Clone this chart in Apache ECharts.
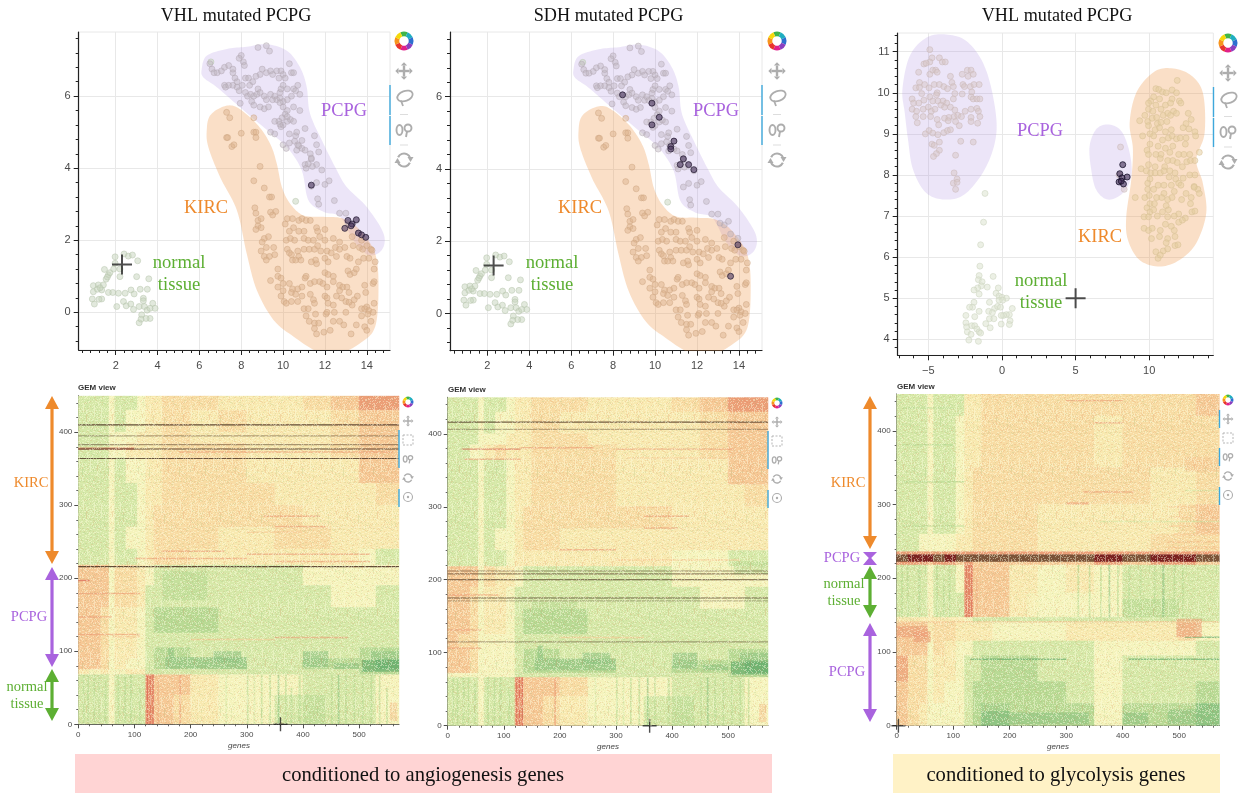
<!DOCTYPE html>
<html><head><meta charset="utf-8">
<style>html,body{margin:0;padding:0;background:#fff}#c{width:1240px;height:793px}</style>
<script src="https://cdn.jsdelivr.net/npm/echarts@6/dist/echarts.min.js"></script>
</head><body><div id="c"></div>
<script>
// ---------- data ----------
const normalA=[[1.97,1.54],[2.4,1.62],[2.6,1.56],[2.8,1.59],[3.05,1.43],[1.97,1.36],[1.46,1.19],[1.9,1.2],[2.2,1.2],[1.65,1.04],[1.54,.92],[2.2,.99],[3,.99],[3.58,.93],[.93,.74],[1.17,.76],[1.41,.76],[1.33,.62],[.93,.57],[1.12,.64],[1.65,.55],[1.86,.55],[2.13,.53],[2.45,.53],[2.73,.62],[2.88,.51],[3.17,.64],[3.51,.64],[3.32,.39],[3.32,.32],[.88,.37],[.98,.23],[1.33,.37],[2.37,.3],[2.5,.18],[2.72,.23],[2.05,.16],[2.85,.08],[3.12,.16],[3.37,.16],[3.5,.06],[3.77,.25],[3.88,.11],[3.64,.11],[3.24,-.07],[3.64,-.17],[3.45,-.17],[3.12,-.29],[3.21,-.19],[1.6,.98],[1.72,1.1],[1.25,.68],[1.2,.36],[10.6,3.08],[6.55,6.95]];
const pcpgA=[[6.5,6.9],[6.6,6.75],[6.7,6.65],[6.85,6.65],[7.05,6.7],[7.2,6.8],[7.4,6.85],[7.6,6.65],[7.6,6.75],[7.7,6.5],[7.8,6.4],[7.2,6.3],[7.25,6.25],[7.4,6.3],[7.6,6.3],[7.8,6.25],[7.9,6.15],[8.05,6.3],[8.2,6.5],[8.35,6.5],[8.55,6.4],[8,7.13],[8.1,6.95],[7.9,7.05],[8.15,6.85],[9.2,7.4],[8.8,7.35],[9.35,7.25],[9,6.75],[9.2,6.65],[9.4,6.7],[8.9,6.6],[8.7,6.55],[9.7,6.7],[9.9,6.7],[10,6.6],[10.3,6.9],[10.4,6.65],[10.5,6.65],[10.1,6.5],[9.8,6.5],[9.5,6.6],[8.4,6.3],[8.2,6.1],[8.3,6],[8.5,5.85],[8.6,6],[8.75,6.05],[8.8,6.2],[8.9,6.1],[9.1,6],[9.2,5.9],[9.4,6.05],[9.5,5.9],[9.6,6],[9.7,5.9],[9.85,6.1],[9.9,6.2],[10,6.3],[10.2,6.2],[10.5,6.2],[10.7,6.3],[10.6,6.15],[10.4,6],[10.8,6.05],[10.2,5.9],[10,5.85],[9.85,5.95],[7.95,5.8],[8.6,5.75],[8.9,5.7],[9.1,5.65],[9.3,5.7],[10,5.7],[10.2,5.6],[10.1,5.5],[10.5,5.7],[10.8,5.6],[9.95,5.4],[9.6,5.3],[9.8,5.3],[10.2,5.3],[10,5.2],[9.9,5.15],[10.35,5.35],[10.5,5.3],[11.05,5.1],[9.4,5],[9.6,4.95],[10.3,4.95],[10.6,4.9],[10.65,5],[10.3,4.7],[10.55,4.75],[10,4.65],[10.15,4.55],[10.7,4.65],[10.65,4.5],[10.9,4.55],[11.05,4.5],[11.5,4.9],[11.6,4.65],[11.7,4.45],[11.3,4.4],[11.35,4.25],[11.05,4.1],[11.1,4],[11.6,4.1],[11.85,3.95],[11.4,4.05],[11.35,3.5],[11.6,3.6],[12,3.55],[12.2,3.65],[11.65,3.15],[11.7,3],[12.45,3.1],[12.7,2.75],[13,2.75],[13.3,2.45],[13.5,2.55],[13.1,2.5],[8.45,6.05],[9.85,5.82],[10.2,5.43],[9.85,5.22],[10.9,4.77],[10.75,4.62],[11.35,4.28],[11.2,4.12],[13.6,2.2],[13.95,2.08]];
const kircA=[[7.3,5.55],[7.45,5.4],[7.3,4.85],[7.35,4.85],[7.55,4.6],[7.65,4.65],[8,4.97],[8.6,5],[8.7,5],[8.7,4.85],[8.6,5.4],[8.9,4.05],[8.6,3.65],[9.1,3.45],[9.35,3.2],[9.45,3.2],[9.4,2.78],[9.65,2.8],[9.5,2.7],[8.65,2.9],[8.7,2.75],[8.8,2.55],[8.95,2.6],[8.8,2.4],[8.7,2.3],[8.95,2.35],[10.2,2.6],[10.45,2.6],[10.75,2.55],[10.9,2.6],[11.1,2.55],[11.3,2.55],[10.1,2.45],[10.5,2.35],[10.75,2.25],[11,2.25],[10.3,2.25],[9.1,2.05],[9.3,2.1],[9,1.95],[9.2,1.8],[9.55,1.8],[8.95,1.7],[9.1,1.55],[9.35,1.55],[9.2,1.45],[9.6,1.6],[10.15,2],[10.35,2.05],[10.55,2],[11,2.05],[11.2,2],[11.45,2],[11.6,2.35],[11.65,2.25],[12,2.3],[12,2],[11.75,2.1],[12.4,2.05],[12.7,1.95],[12.5,1.8],[11,1.75],[11.25,1.75],[11.5,1.75],[11.65,1.85],[11.8,1.7],[12.1,1.7],[12.3,1.65],[12.7,1.75],[12.95,1.8],[13.35,1.85],[13.65,1.8],[13.8,1.75],[14,1.85],[14.2,1.75],[10.2,1.75],[10.3,1.65],[10.4,1.6],[10.7,1.7],[10.75,1.55],[10.45,1.45],[10.6,1.45],[10.85,1.45],[11.6,1.35],[11.55,1.45],[12.15,1.4],[12,1.5],[13.05,1.55],[13.2,1.5],[13.85,1.5],[13.6,1.4],[14.1,1.5],[14.4,1.4],[14.35,1.2],[9.75,1.2],[9.75,1],[9.9,.95],[9.4,.88],[10,.8],[10.3,.8],[9.75,.7],[10,.6],[10.45,.65],[10.7,.65],[10.9,.7],[9.9,.45],[10.4,.55],[10.6,.5],[10.9,.45],[11.05,.95],[11.1,1],[11.3,.8],[11.5,.85],[11.75,.85],[11.9,.8],[12,1.1],[12.15,1.05],[12.4,1],[12.4,.85],[12.1,.7],[13.1,1.15],[13.2,1.05],[13.4,1.1],[13.5,1.2],[14.3,.8],[14.35,.85],[13.9,.75],[12.7,.75],[12.85,.7],[13.05,.7],[12.7,.6],[13.15,.55],[13.95,.55],[10.05,.3],[10.15,.25],[10.4,.3],[10.7,.3],[11.3,.5],[11.45,.35],[11.5,.25],[11,.1],[11.2,.1],[12,.45],[12.1,.4],[12.15,.25],[12.4,.2],[12.55,.45],[12.8,.4],[13,.3],[13.3,.2],[13.4,.35],[13.55,.45],[14.35,.25],[14,.15],[13.75,.1],[13.9,.1],[14.1,.05],[11.1,-.1],[11.55,-.05],[12.05,-.05],[12.1,0],[12.45,0],[13,0],[13.75,-.1],[14.05,-.05],[14.3,0],[11.25,-.25],[11.5,-.3],[11.7,-.3],[12.4,-.25],[12.7,-.25],[13.5,-.35],[14.2,-.25],[13.9,-.4],[14,-.5],[11.5,-.45],[11.6,-.6],[11.95,-.55],[12.25,-.5],[13.25,-.6],[12.9,-.35],[13.3,2.1],[13.75,2],[14.25,1.72],[13.15,.28],[12.55,1.55],[11.35,1.4]];
const highlightVhlA=[[11.35,3.53],[13.1,2.55],[13.5,2.57],[13.3,2.45],[13.25,2.4],[12.95,2.33],[13.6,2.2],[13.75,2.15],[13.95,2.08]];
const highlightSdh=[[8.45,6.05],[9.85,5.82],[10.2,5.43],[9.85,5.22],[10.9,4.77],[10.75,4.62],[10.75,4.55],[11.35,4.28],[11.6,4.12],[11.2,4.12],[11.85,3.98],[13.95,1.9],[13.6,1.03]];
const normalB=[[-1.15,7.55],[-1.25,6.85],[-1.45,6.3],[-1.5,5.78],[-.6,5.53],[-1.55,5.55],[-1.6,5.45],[-1.35,5.4],[-1.4,5.3],[-1.65,5.25],[-1,5.27],[-.25,5.25],[-1.9,5.2],[-1.55,5.1],[-.4,5.12],[-.2,5.05],[0,5.02],[.3,5],[-.2,4.95],[-.85,4.9],[.05,4.95],[-1.9,4.9],[-2,4.78],[-2.2,4.78],[-.5,4.75],[-.3,4.8],[-.1,4.78],[.7,4.75],[.5,4.6],[.3,4.6],[.1,4.58],[-.9,4.68],[-.65,4.65],[-1.55,4.68],[-1.85,4.55],[-2.45,4.58],[-.85,4.5],[-.55,4.5],[-.05,4.58],[.55,4.45],[.5,4.36],[-.05,4.37],[-1.1,4.38],[-.8,4.28],[-2.45,4.4],[-2.4,4.3],[-2.05,4.33],[-1.85,4.33],[-1.7,4.25],[-1.55,4.18],[-1.45,4.15],[-2.35,4.18],[-2.1,4.12],[-2.25,3.98],[-1.6,3.95]];
const pcpgB=[[-4.9,11.05],[-4.75,10.85],[-4.9,10.75],[-5.3,10.7],[-5.15,10.72],[-4.25,10.85],[-4.05,10.75],[-3.85,10.75],[-5.66,10.5],[-4.9,10.45],[-4.7,10.55],[-4.5,10.55],[-4.4,10.5],[-3.5,10.4],[-3.4,10.25],[-2.7,10.45],[-2.35,10.55],[-2.1,10.55],[-2.3,10.4],[-1.95,10.45],[-5.6,10.25],[-5.85,10.12],[-5.6,10.13],[-5.25,10.2],[-4.95,10.12],[-4.6,10.2],[-4.25,10.2],[-3.95,10.15],[-3.7,10.1],[-3.3,10.15],[-2.65,10.2],[-2.55,10.15],[-2.15,10.15],[-1.9,10.2],[-1.55,10.2],[-2.05,10.02],[-4.4,10],[-4.45,9.95],[-3.2,9.98],[-2.7,9.97],[-2.1,9.9],[-5.45,9.98],[-4.9,9.9],[-6.1,9.85],[-6,9.75],[-5.65,9.75],[-5.3,9.82],[-4.7,9.8],[-4.35,9.8],[-4,9.8],[-3.75,9.75],[-3.3,9.85],[-1.95,9.85],[-1.7,9.85],[-1.5,9.85],[-6.1,9.6],[-5.8,9.55],[-5.35,9.6],[-5,9.65],[-4.8,9.55],[-4.55,9.6],[-4.15,9.7],[-3.9,9.65],[-3.5,9.65],[-3.2,9.58],[-2.5,9.55],[-2.1,9.6],[-1.7,9.62],[-1.6,9.55],[-5.85,9.42],[-5.35,9.42],[-4.85,9.42],[-3.6,9.4],[-3.25,9.42],[-3,9.45],[-2.75,9.42],[-1.5,9.42],[-2.1,9.4],[-4.4,9.35],[-4.3,9.22],[-3.9,9.38],[-3.65,9.32],[-3.15,9.3],[-2.9,9.2],[-2.1,9.3],[-1.65,9.26],[-5.75,9.27],[-4.95,9.08],[-5.2,9],[-4.7,9.02],[-4.35,8.98],[-3.95,9.03],[-3.7,9.08],[-3.5,9.1],[-4.75,8.75],[-4.6,8.72],[-4.25,8.8],[-2.8,8.82],[-1.95,8.8],[-4.25,8.6],[-4.45,8.52],[-4.65,8.45],[-3.15,8.48],[-3.25,8.05],[-3.05,7.9],[-3.3,7.8],[-3.05,7.82],[-3.15,7.65],[8.05,8.68],[7.95,8],[8.3,7.65]];
const kircB=[[11.9,10.3],[10.45,10.1],[10.65,10.08],[10.9,10.02],[11.15,10],[11.55,10.07],[11.85,10],[10.1,9.8],[10.3,9.9],[10.7,9.85],[11.55,9.85],[12.05,9.8],[9.95,9.75],[10.45,9.7],[10.8,9.6],[11.1,9.7],[11.45,9.75],[12.15,9.75],[9.95,9.6],[10.25,9.55],[11.25,9.5],[11.65,9.55],[12.65,9.5],[9.7,9.45],[9.9,9.3],[10.2,9.38],[10.5,9.4],[10.95,9.45],[11.45,9.45],[11.85,9.5],[12.85,9.35],[9.35,9.32],[9.95,9.2],[10.55,9.25],[10.8,9.28],[11.2,9.3],[12.5,9.25],[12.3,9.15],[10.4,9.1],[10.7,9.15],[11.1,9.05],[10.05,9],[11.5,9.1],[12.7,9.12],[13.1,9.05],[9.55,8.95],[10.3,8.95],[10.9,8.85],[11.3,8.9],[11.55,8.95],[11.85,8.88],[12.1,8.9],[12.5,8.9],[13.15,8.95],[10.05,8.75],[10.6,8.7],[11.1,8.65],[11.6,8.7],[12.45,8.75],[9.85,8.6],[9.95,8.5],[10.45,8.5],[10.8,8.5],[11.4,8.55],[12,8.5],[12.35,8.5],[12.75,8.5],[13.4,8.55],[10.75,8.4],[11.25,8.35],[11.6,8.35],[11.9,8.3],[12.55,8.32],[12.8,8.35],[13.1,8.35],[9.95,8.25],[10.4,8.2],[11.05,8.2],[11.4,8.1],[12.25,8.2],[9.45,8.15],[9.8,8.1],[10.1,8.05],[10.4,8.05],[10.75,8.05],[11,8.1],[11.75,8.05],[12.75,8],[13.1,8],[10.05,7.9],[11.35,7.95],[11.8,7.9],[12.3,7.92],[12,7.8],[9.9,7.8],[10.6,7.75],[11,7.75],[11.5,7.75],[12.15,7.75],[13.05,7.72],[13.3,7.65],[9.9,7.65],[10.3,7.65],[11,7.55],[11.7,7.6],[12.5,7.55],[13.05,7.7],[13.4,7.55],[9.05,7.45],[9.7,7.45],[10,7.5],[10.5,7.45],[10.85,7.45],[11.25,7.4],[11.55,7.45],[12.2,7.4],[12.85,7.45],[10.05,7.3],[10.35,7.3],[11.15,7.25],[12.8,7.3],[9.85,7.2],[10.05,7.1],[10.3,7.15],[10.9,7.1],[11.3,7.15],[12,7.05],[12.9,7.1],[13.1,7.12],[9.65,6.98],[9.95,6.98],[10.55,7],[11.25,6.98],[11.7,7],[12.45,6.95],[11.1,6.8],[12,6.85],[12.25,6.9],[11.5,6.75],[9.65,6.7],[9.95,6.65],[10.2,6.7],[10.75,6.65],[11.7,6.65],[10.15,6.45],[10.7,6.5],[11.25,6.45],[11.75,6.5],[11.15,6.35],[11.75,6.28],[11.95,6.3],[10.45,6.13],[10.95,6.15],[11.25,6.2],[10.6,5.97],[10.75,6.05]];
const highlightVhlB=[[8.2,8.25],[8,8.03],[8.5,7.95],[8.15,7.93],[7.95,7.83],[8.25,7.78],[8.1,7.85]];
const crossA=[[2.3,1.33]], crossC=[[5,5]], crossHeat=[[360,0]], crossHeatC=[[3,0]];

const blobPcpgA=[[6.11,6.75],[6.35,7.12],[7.31,7.31],[8.26,7.37],[9.22,7.44],[10.18,7.26],[10.81,6.8],[11.13,6.25],[11.29,5.51],[11.93,4.68],[12.57,3.94],[13.04,3.48],[14,2.92],[14.8,2.19],[14.72,1.73],[14.08,1.59],[13.36,2],[12.73,2.65],[11.93,2.79],[11.21,3.11],[10.89,3.94],[10.18,4.58],[9.06,5.14],[7.94,5.69],[6.83,6.25],[6.19,6.52]];
const blobKircA=[[6.35,5.05],[6.51,5.46],[7.15,5.71],[7.79,5.69],[8.74,5.23],[9.38,4.68],[9.7,4.12],[9.94,3.48],[10.33,3.02],[10.97,2.69],[11.93,2.65],[12.88,2.6],[13.68,2.28],[14.4,1.63],[14.56,.71],[14.4,-.4],[13.68,-.86],[12.73,-1.13],[11.77,-1.13],[10.49,-.67],[9.54,-.21],[8.74,.62],[8.26,1.63],[7.79,2.83],[6.99,3.75],[6.43,4.58]];
const blobPcpgB1=[[-6.76,10.08],[-6.27,10.89],[-5.14,11.34],[-3.78,11.42],[-2.42,11.26],[-1.29,10.73],[-.61,9.92],[-.38,9.02],[-1.06,8.21],[-2.42,7.56],[-3.78,7.4],[-5.14,7.56],[-6.04,8.13],[-6.38,8.86],[-6.6,9.51]];
const blobPcpgB2=[[5.95,8.7],[6.4,9.11],[7.19,9.23],[8.1,9.07],[8.67,8.54],[8.78,7.97],[8.21,7.56],[7.19,7.4],[6.4,7.64],[6.06,8.13]];
const blobKircB=[[8.67,9.27],[9.12,10],[10.25,10.49],[11.38,10.6],[12.74,10.45],[13.64,10],[13.76,9.02],[13.19,8.37],[13.64,7.8],[13.87,7.07],[13.19,6.34],[12.06,5.93],[10.7,5.77],[9.34,5.93],[8.55,6.42],[8.44,6.99],[8.78,7.89],[8.89,8.63]];

const geneEdges=[0,20,40,55,65,85,105,120,135,150,170,200,250,300,350,400,450,500,530,571];
const heatLevelColors=['#5aa868','#8fc583','#b9da95','#d6e8a8','#f5f3bc','#f8e9b0','#f8dca4','#f6c996','#ec9f78','#d6574c','#7a5238','#7a2020'];
const rowEdgesA=[450,430,400,385,365,330,300,270,240,218,190,160,125,105,90,75,68,40,0];
const heatA=[
[3,3,3,4,3,3,4,5,5,6,6,6,5,5,5,6,7,8,8],
[3,3,3,4,3,4,4,5,5,6,6,5,6,5,5,5,6,7,7],
[3,3,3,4,4,4,5,5,5,6,6,5,5,5,5,5,6,7,7],
[3,3,3,4,4,5,5,5,5,6,6,6,6,5,5,5,6,7,7],
[3,3,3,4,3,4,4,5,5,6,6,6,6,5,5,5,5,7,7],
[3,3,3,4,3,3,4,5,5,6,6,6,6,6,5,5,5,5,6],
[3,3,3,4,3,3,4,5,6,6,6,6,6,6,6,5,5,5,5],
[3,3,3,4,3,4,4,5,6,6,6,6,5,5,6,6,5,5,5],
[3,3,3,4,3,3,4,5,6,6,6,5,5,5,5,5,5,4,3],
[7,7,7,4,6,6,5,4,3,3,3,3,3,3,3,4,4,4,4],
[7,7,7,4,6,6,5,3,3,3,3,3,3,3,3,3,4,4,3],
[7,7,6,4,5,5,4,3,2,2,2,2,3,3,3,3,3,3,3],
[7,7,6,4,5,5,4,3,3,3,3,3,3,3,3,3,3,3,3],
[7,7,6,4,5,5,4,3,2,2,2,3,3,3,3,3,3,2,2],
[7,7,6,4,5,4,4,3,2,2,2,2,2,3,3,2,2,2,1],
[5,4,5,4,4,5,5,3,3,3,3,3,3,3,3,3,3,2,2],
[3,3,3,4,3,3,3,8,7,7,7,5,4,4,4,3,3,3,4],
[3,3,3,4,3,3,3,8,7,7,6,5,4,4,3,3,3,3,4]];
const stripesA=[[410,.85],[395,.4],[383,.45],[377,.85],[364,.8],[216,.85]];
const detailA=[[8,11,0,68,2],[16,19,0,68,2],[27,30,0,68,2],[36,38,0,68,2],[47,50,0,60,2],[70,73,0,68,2],[82,85,0,68,2],[92,96,0,68,2],[108,111,0,50,2],[122,124,0,68,9],[127,129,0,68,9],[132,134,0,68,9],[141,143,0,60,8],[180,183,0,68,8],[205,208,0,40,5],[262,265,0,68,3],[300,303,0,68,2],[312,315,0,68,3],[325,328,0,68,2],[340,343,0,68,2],[355,358,0,68,1],[368,371,0,68,2],[378,381,0,50,2],[392,396,0,68,2],[400,440,0,40,2],[450,453,0,68,2],[462,465,0,68,1],[475,478,0,68,2],[490,493,0,68,2],[505,508,0,68,2],[520,523,0,68,2],[535,538,0,68,2],[548,551,0,50,2],[555,568,5,30,7],
[330,430,284,286,8],[350,440,270,272,8],[300,400,262,264,7],[150,260,236,238,8],[300,520,232,234,8],[100,300,226,228,8],[350,520,222,224,8],[0,100,376,379,9],[180,560,372,374,8],[0,20,196,198,9],[0,110,178,180,8],[0,60,146,148,8],[0,110,122,124,8],[60,110,119,121,7],[200,350,115,117,7],[350,480,118,120,8],[155,300,76,92,1],[160,170,90,105,1],[240,290,85,100,1],[400,445,78,100,1],[455,500,76,84,1],[505,571,72,88,0],[520,571,88,100,1],[150,230,130,160,2],[150,230,170,210,2]];
const rowEdgesB=[450,430,400,385,365,330,300,270,240,218,190,160,125,105,90,72,66,40,0];
const heatB=[
[3,3,3,4,3,3,4,5,5,6,6,6,5,5,5,6,7,8,8],
[3,3,3,4,3,4,4,5,5,6,6,5,5,5,5,5,6,7,7],
[3,3,3,4,4,4,5,5,5,6,6,6,5,5,5,5,6,7,7],
[3,3,4,4,5,6,5,5,5,6,6,6,6,5,5,5,6,7,7],
[3,3,3,4,3,3,4,5,5,6,6,6,6,5,5,5,5,7,7],
[3,3,3,4,3,3,4,5,5,6,6,6,6,5,5,5,5,5,6],
[3,3,3,4,3,3,4,5,6,6,6,6,6,6,6,5,5,5,5],
[3,3,3,4,3,4,4,5,6,6,6,5,5,5,5,5,5,5,5],
[3,3,3,4,3,3,4,5,5,5,5,5,5,5,5,4,4,3,3],
[7,7,7,4,6,5,5,4,3,3,3,3,3,3,3,4,4,4,4],
[7,7,6,4,5,5,4,3,3,3,3,3,3,3,3,3,4,4,3],
[7,7,6,4,5,5,4,3,2,2,2,2,3,3,3,3,3,3,3],
[7,6,6,4,4,4,4,3,3,3,3,3,3,3,3,3,3,3,3],
[7,7,6,4,4,4,4,3,2,2,2,3,3,3,3,3,3,2,2],
[7,7,6,4,4,4,4,3,2,2,2,2,2,3,3,2,2,2,1],
[4,4,4,4,4,4,4,3,3,3,3,3,3,3,3,3,3,2,2],
[3,3,3,4,3,3,3,8,7,7,7,6,4,4,4,3,3,3,4],
[3,3,3,4,3,3,3,8,7,7,6,5,4,4,3,3,3,3,4]];
const stripesB=[[416,.75],[406,.35],[212,.5],[208,.55],[200,.8],[175,.7],[171,.3],[115,.4]];
const detailB=[[8,11,0,66,2],[16,19,0,66,2],[27,30,0,66,2],[36,38,0,66,2],[47,50,0,60,2],[70,73,0,66,2],[82,85,0,66,2],[92,96,0,66,2],[108,111,0,50,2],[122,124,0,66,9],[127,129,0,66,9],[132,134,0,66,9],[190,193,0,66,8],[262,265,0,66,3],[300,303,0,66,2],[312,315,0,66,3],[325,328,0,66,2],[340,343,0,66,2],[355,358,0,66,1],[368,371,0,66,2],[392,396,0,66,2],[400,440,0,40,2],[450,453,0,66,2],[462,465,0,66,1],[475,478,0,66,2],[490,493,0,66,2],[505,508,0,66,2],[520,523,0,66,2],[535,538,0,66,2],[555,568,5,30,7],
[25,130,378,380,9],[130,260,380,382,8],[300,510,378,380,8],[30,130,364,366,8],[320,510,366,368,7],[330,400,298,300,7],[350,430,286,288,8],[350,410,270,272,8],[200,300,240,242,8],[300,520,226,228,7],[0,90,178,180,8],[0,60,130,132,8],[0,60,105,107,8],[200,350,120,122,7],[155,300,76,92,1],[160,170,90,110,1],[240,290,85,100,1],[400,445,78,100,1],[455,500,76,84,1],[505,571,70,88,0],[520,571,88,100,1],[150,230,130,170,2],[510,571,208,225,2]];
const rowEdgesC=[450,420,350,300,260,236,232,222,218,180,147,140,115,95,60,30,0];
const heatC=[
[3,3,3,4,3,3,3,5,5,6,6,6,6,6,6,6,6,6,7],
[3,3,3,4,3,3,4,5,5,6,6,6,6,6,5,6,6,6,6],
[3,3,3,4,3,3,4,5,6,6,6,6,6,6,6,6,5,5,6],
[3,3,3,4,3,3,4,5,6,6,6,6,5,5,5,5,5,6,7],
[3,3,4,4,4,4,5,5,6,6,6,6,5,5,5,5,6,6,6],
[8,8,8,8,8,8,8,8,8,8,8,8,8,8,8,8,8,8,8],
[10,11,11,11,10,11,10,10,10,10,10,10,10,10,11,10,11,11,10],
[8,8,8,7,8,8,7,8,7,7,7,7,7,7,8,7,8,8,7],
[3,3,3,4,3,3,4,8,7,7,7,5,4,5,4,3,3,3,3],
[3,3,3,4,3,3,3,8,7,7,7,5,4,4,4,3,3,3,3],
[5,5,5,5,5,5,5,4,3,3,3,3,3,3,3,3,3,3,3],
[7,7,7,5,6,6,5,5,5,5,4,4,4,5,5,5,5,6,4],
[7,7,7,4,6,5,4,4,3,3,3,3,3,3,4,4,4,4,3],
[7,6,6,4,5,5,4,3,3,2,2,2,3,3,4,3,3,3,3],
[7,6,6,4,5,4,4,3,2,2,2,2,2,3,4,3,3,3,2],
[7,6,5,4,4,4,4,3,2,1,1,2,2,2,4,2,2,2,1]];
const stripesC=[];
const detailC=[[8,11,147,218,2],[18,21,147,218,2],[30,33,147,218,3],[38,42,147,218,2],[70,73,147,218,2],[82,85,147,200,2],[92,95,147,218,2],[122,124,147,218,9],[127,129,147,218,9],[132,134,147,218,9],[141,143,147,200,8],[230,262,147,180,4],[270,285,147,180,4],[320,323,147,218,2],[340,343,147,218,2],[360,363,147,218,2],[375,378,147,218,1],[390,393,147,218,2],[400,500,147,172,2],[410,413,147,218,2],[430,433,147,218,2],[455,458,147,218,2],[470,474,147,218,1],[490,493,147,218,2],[505,508,147,218,2],
[130,300,89,91,0],[410,571,89,91,0],[510,571,119,121,0],[495,540,120,145,8],[0,55,120,135,8],[30,60,113,128,8],[0,20,60,95,8],[0,570,140,142,7],[150,340,2,18,1],[400,445,2,18,1],[480,571,2,22,1],[150,300,20,50,2],[480,571,240,243,7],[480,571,248,251,7],[490,571,258,261,7],[480,571,270,272,7],[480,571,282,284,7],[480,571,296,298,7],[510,571,345,365,7],[300,340,300,303,8],[330,420,316,318,8],[350,400,410,412,8],[300,400,440,442,8],[360,571,276,278,3],[510,571,318,320,3],[10,120,270,272,2],[10,120,330,332,2],[10,100,380,382,2],[10,100,430,432,2]];
const titles=['VHL mutated PCPG','SDH mutated PCPG','VHL mutated PCPG'];
const scatterXTicksAB=[2,4,6,8,10,12,14], scatterYTicksAB=[0,2,4,6];
const scatterXTicksC=[-5,0,5,10], scatterYTicksC=[4,5,6,7,8,9,10,11];
const heatXTicks=[0,100,200,300,400,500], heatYTicks=[0,100,200,300,400];
const minorAX=[.4,.8,1.2,1.6,2.4,2.8,3.2,3.6,4.4,4.8,5.2,5.6,6.4,6.8,7.2,7.6,8.4,8.8,9.2,9.6,10.4,10.8,11.2,11.6,12.4,12.8,13.2,13.6,14.4,14.8];
const minorAY=[-.8,-.4,.4,.8,1.2,1.6,2.4,2.8,3.2,3.6,4.4,4.8,5.2,5.6,6.4,6.8,7.2,7.6];
const minorCX=[-7,-6,-4,-3,-2,-1,1,2,3,4,6,7,8,9,11,12,13,14];
const minorCY=[3.8,4.2,4.4,4.6,4.8,5.2,5.4,5.6,5.8,6.2,6.4,6.6,6.8,7.2,7.4,7.6,7.8,8.2,8.4,8.6,8.8,9.2,9.4,9.6,9.8,10.2,10.4,10.6,10.8,11.2,11.4];
const minorHX=[20,40,60,80,120,140,160,180,220,240,260,280,320,340,360,380,420,440,460,480,520,540,560];
const minorHY=[20,40,60,80,120,140,160,180,220,240,260,280,320,340,360,380,420,440];

// ---------- layout ----------
const panels=[
 {l:78.7,t:32,r:390,b:350,x:[.23,15.11],y:[-1.046,7.78],sx:7,sy:4,xt:scatterXTicksAB,yt:scatterYTicksAB,mx:minorAX,my:minorAY},
 {l:450,t:32,r:762,b:350.7,x:[.22,15.1],y:[-1.03,7.79],sx:7,sy:4,xt:scatterXTicksAB,yt:scatterYTicksAB,mx:minorAX,my:minorAY},
 {l:897.7,t:33,r:1213.3,b:355.3,x:[-7.08,14.35],y:[3.61,11.455],sx:4,sy:8,xt:scatterXTicksC,yt:scatterYTicksC,mx:minorCX,my:minorCY},
 {l:78.3,t:395.7,r:399,b:724.3,x:[0,571],y:[0,450],sx:6,sy:5,xt:heatXTicks,yt:heatYTicks,mx:minorHX,my:minorHY,h:1},
 {l:447.7,t:397.3,r:768,b:725.7,x:[0,571],y:[0,450],sx:6,sy:5,xt:heatXTicks,yt:heatYTicks,mx:minorHX,my:minorHY,h:1},
 {l:896.7,t:394,r:1219.3,b:725.7,x:[0,571],y:[0,450],sx:6,sy:5,xt:heatXTicks,yt:heatYTicks,mx:minorHX,my:minorHY,h:1}];
const grid=[],xAxis=[],yAxis=[],series=[];
panels.forEach(p=>{
 const fs=p.h?8:11,ml=p.h?4:5;
 grid.push({left:p.l,top:p.t,width:p.r-p.l,height:p.b-p.t,show:!p.h,borderColor:'#e8e8e8',borderWidth:1,backgroundColor:'transparent'});
 const gi=grid.length-1;
 const mk=(isX)=>{
  const ext=isX?p.x:p.y,ticks=isX?p.xt:p.yt,minor=isX?p.mx:p.my,pos=isX?'bottom':'left';
  const main={type:'value',gridIndex:gi,position:pos,min:ext[0],max:ext[1],splitNumber:isX?p.sx:p.sy,
   axisLine:{show:true,onZero:false,lineStyle:{color:'#222',width:p.h?.8:1.2}},
   axisTick:{show:true,length:ml,customValues:ticks,lineStyle:{color:'#222',width:p.h?.8:1}},
   axisLabel:{show:true,customValues:ticks,color:'#4a4a4a',fontSize:fs,fontFamily:'Liberation Sans',margin:p.h?6:isX?10:8,formatter:v=>String(v).replace('-','\u2212')},
   splitLine:{show:!p.h,lineStyle:{color:'#e8e8e8',width:1}}};
  const mi={type:'value',gridIndex:gi,position:pos,min:ext[0],max:ext[1],
   axisLine:{show:false,onZero:false},axisLabel:{show:false},splitLine:{show:false},
   axisTick:{show:true,length:p.h?2:3,customValues:minor,lineStyle:{color:'#222',width:p.h?.7:1}}};
  return [main,mi];
 };
 xAxis.push(...mk(true)); yAxis.push(...mk(false));
});
const ax=i=>({xAxisIndex:2*i,yAxisIndex:2*i});
// closed Catmull-Rom outline through the blob vertices, in pixels
function outline(px){
 const out=[],n=px.length;
 for(let i=0;i<n;i++){
  const a=px[(i-1+n)%n],b=px[i],c=px[(i+1)%n],d=px[(i+2)%n];
  for(let k=0;k<10;k++){const t=k/10,t2=t*t,t3=t2*t;
   out.push([0,1].map(m=>.5*(2*b[m]+(c[m]-a[m])*t+(2*a[m]-5*b[m]+4*c[m]-d[m])*t2+(3*b[m]-a[m]-3*c[m]+d[m])*t3)));}
 }
 return out;
}
function blob(i,pts,color){
 series.push({type:'custom',...ax(i),coordinateSystem:'cartesian2d',clip:true,silent:true,z:1,data:pts,
  renderItem:(params,api)=>params.dataIndex? null:{type:'polygon',shape:{points:outline(pts.map(q=>api.coord(q)))},style:{fill:color}}});
}
function dots(i,pts,fill,stroke,z,size){
 series.push({type:'scatter',...ax(i),data:pts,symbolSize:size||6,z:z||3,silent:true,
  itemStyle:{color:fill,borderColor:stroke,borderWidth:1}});
}
const CROSS='path://M9,0H11V9H20V11H11V20H9V11H0V9H9Z';
function cross(i,pts,size){
 series.push({type:'scatter',...ax(i),data:pts,symbol:CROSS,symbolSize:size,z:8,silent:true,itemStyle:{color:'#222'},clip:true});
}
const PURPLE='rgba(168,135,225,.22)',ORANGE='rgba(240,150,70,.30)';
[[0,highlightVhlA],[1,highlightSdh]].forEach(([i,hl])=>{
 blob(i,blobPcpgA,PURPLE); blob(i,blobKircA,ORANGE);
 dots(i,normalA,'rgba(200,212,190,.65)','rgba(185,198,175,.65)');
 dots(i,pcpgA,'rgba(190,180,190,.55)','rgba(175,165,175,.55)');
 dots(i,kircA,'rgba(220,178,140,.6)','rgba(205,165,130,.6)');
 dots(i,hl,'rgba(75,55,95,.75)','rgba(35,25,50,.9)',5);
 cross(i,crossA,20);
});
blob(2,blobPcpgB1,PURPLE); blob(2,blobPcpgB2,PURPLE); blob(2,blobKircB,ORANGE);
dots(2,normalB,'rgba(222,228,208,.7)','rgba(205,212,192,.7)');
dots(2,pcpgB,'rgba(215,197,198,.65)','rgba(202,185,185,.65)');
dots(2,kircB,'rgba(228,205,160,.65)','rgba(215,192,148,.65)');
dots(2,highlightVhlB,'rgba(60,40,80,.75)','rgba(20,15,40,.95)',5);
cross(2,crossC,20);
function heat(i,rows,levels,stripes,detail,cr){
 const cells=[];
 levels.forEach((r,ri)=>r.forEach((lv,ci)=>cells.push([geneEdges[ci],geneEdges[ci+1],rows[ri+1],rows[ri],lv])));
 const rectFrom=(opacity)=>(params,api)=>{
   const a=api.coord([api.value(0),api.value(3)]),b=api.coord([api.value(1),api.value(2)]);
   const c=heatLevelColors[api.value(4)];
   return {type:'rect',shape:{x:a[0],y:a[1],width:b[0]-a[0],height:b[1]-a[1]},style:{fill:c,stroke:opacity<1?null:c,lineWidth:.5,opacity}};
 };
 series.push({type:'custom',...ax(i),clip:true,silent:true,z:2,data:cells,encode:{x:[0,1],y:[2,3]},renderItem:rectFrom(1)});
 series.push({type:'custom',...ax(i),clip:true,silent:true,z:3,data:detail,encode:{x:[0,1],y:[2,3]},renderItem:rectFrom(.6)});
 if(stripes.length)series.push({type:'custom',...ax(i),clip:true,silent:true,z:4,data:stripes,encode:{y:0},
  renderItem:(params,api)=>{
   const a=api.coord([0,api.value(0)]),b=api.coord([571,api.value(0)]);
   return {type:'rect',shape:{x:a[0],y:a[1]-.6,width:b[0]-a[0],height:1.2},style:{fill:'rgba(70,45,30,'+api.value(1)+')'}};
  }});
 cross(i,cr,14);
}
heat(3,rowEdgesA,heatA,stripesA,detailA,crossHeat);
heat(4,rowEdgesB,heatB,stripesB,detailB,crossHeat);
heat(5,rowEdgesC,heatC,stripesC,detailC,crossHeatC);

// ---------- speckle texture (style only, no values) ----------
const tile=document.createElement('canvas');tile.width=tile.height=97;
const tc=tile.getContext('2d');
for(let i=0;i<97;i++)for(let j=0;j<97;j++){
 const k=(i*i*73+j*j*151+i*j*37+i*11+j*29)%101;
 if(k<24){tc.fillStyle='rgba(255,255,225,.42)';tc.fillRect(i,j,1,1);}
 else if(k<32){tc.fillStyle='rgba(215,120,80,.17)';tc.fillRect(i,j,1,1);}
 else if(k<40){tc.fillStyle='rgba(110,170,100,.14)';tc.fillRect(i,j,1,1);}
}
// ---------- annotations ----------
const SERIF='Liberation Serif',G=[];
const C_OR='#EE8A2C',C_PU='#A963DE',C_GR='#5DAF33';
const txt=(s,x,y,size,color,extra)=>G.push({type:'text',x,y,z:20,silent:true,style:Object.assign({text:s,fill:color,fontFamily:SERIF,fontSize:size,align:'center',verticalAlign:'middle'},extra||{})});
panels.slice(3).forEach(p=>G.push({type:'rect',z:9,silent:true,shape:{x:p.l,y:p.t,width:p.r-p.l,height:p.b-p.t},style:{fill:{image:tile,repeat:'repeat'}}}));
G.push({type:'rect',z:0,shape:{x:75,y:754,width:697,height:39},style:{fill:'#FFD4D4'}});
G.push({type:'rect',z:0,shape:{x:893,y:754,width:327,height:39},style:{fill:'#FFF2C6'}});
txt('conditioned to angiogenesis genes',423,776,20.6,'#111');
txt('conditioned to glycolysis genes',1056,776,20.6,'#111');
[[344,111,206,208,179,263,285],[716,111,580,208,552,263,285],[1040,131,1100,237,1041,281,303]].forEach(a=>{
 txt('PCPG',a[0],a[1],18.4,C_PU);txt('KIRC',a[2],a[3],18.4,C_OR);txt('normal',a[4],a[5],18.6,C_GR);txt('tissue',a[4],a[6],18.6,C_GR);
});
[[31,483,'KIRC',C_OR],[29,617,'PCPG',C_PU],[27,687,'normal',C_GR],[27,704,'tissue',C_GR],[848,483,'KIRC',C_OR],[842,558,'PCPG',C_PU],[844,584,'normal',C_GR],[844,601,'tissue',C_GR],[847,672,'PCPG',C_PU]].forEach(a=>txt(a[2],a[0],a[1],14.5,a[3]));
function arrow(x,y1,y2,c){
 const h=13;
 G.push({type:'line',z:18,silent:true,shape:{x1:x,y1:y1+h/2,x2:x,y2:y2-h/2},style:{stroke:c,lineWidth:3.2}});
 G.push({type:'polygon',z:18,silent:true,shape:{points:[[x,y1],[x-7,y1+h],[x+7,y1+h]]},style:{fill:c}});
 G.push({type:'polygon',z:18,silent:true,shape:{points:[[x,y2],[x-7,y2-h],[x+7,y2-h]]},style:{fill:c}});
}
arrow(52,396,564,C_OR);arrow(52,567,667,C_PU);arrow(52,669,721,C_GR);
arrow(870,396,549,C_OR);arrow(870,566,618,C_GR);arrow(870,623,722,C_PU);
G.push({type:'polygon',z:18,silent:true,shape:{points:[[863,552],[877,552],[871.2,558],[877,565],[863,565],[868.8,558]]},style:{fill:C_PU}});
[[78,388],[448,390],[897,387]].forEach(a=>G.push({type:'text',x:a[0],y:a[1],z:20,silent:true,style:{text:'GEM view',fill:'#333',fontFamily:'Liberation Sans',fontWeight:'bold',fontSize:8,verticalAlign:'middle'}}));
[[239,746],[608,747],[1058,747]].forEach(a=>G.push({type:'text',x:a[0],y:a[1],z:20,silent:true,style:{text:'genes',fill:'#444',fontFamily:'Liberation Sans',fontStyle:'italic',fontSize:8,align:'center',verticalAlign:'middle'}}));
// toolbar glyphs
const GRAY='#adadad',BLUE='#3EA8DC';
const WHEEL=['#3fb54a','#1faec0','#2d6fd0','#8a3fc0','#e0218a','#e8352c','#f7941d','#f5d90a'];
function wheel(x,y,r){WHEEL.forEach((c,i)=>G.push({type:'sector',z:20,silent:true,shape:{cx:x,cy:y,r:r,r0:r*.5,startAngle:i*Math.PI/4-Math.PI/2-Math.PI/8,endAngle:(i+1)*Math.PI/4-Math.PI/2-Math.PI/8},style:{fill:c}}));}
const stroke=(lw)=>({stroke:GRAY,fill:'none',lineWidth:lw});
function move(x,y,s){const d=5.5*s;
 G.push({type:'line',z:20,silent:true,shape:{x1:x-d,y1:y,x2:x+d,y2:y},style:stroke(2.4*s)});
 G.push({type:'line',z:20,silent:true,shape:{x1:x,y1:y-d,x2:x,y2:y+d},style:stroke(2.4*s)});
 [[0,-1],[0,1],[-1,0],[1,0]].forEach(v=>{const a=3.2*s,tx=x+v[0]*d,ty=y+v[1]*d;
  G.push({type:'polygon',z:20,silent:true,shape:{points:[[tx+v[0]*a,ty+v[1]*a],[tx+v[1]*a,ty+v[0]*a],[tx-v[1]*a,ty-v[0]*a]]},style:{fill:GRAY}});});}
function lasso(x,y){G.push({type:'ellipse',z:20,silent:true,shape:{cx:x+1,cy:y-2,rx:8,ry:5},rotation:.35,originX:x+1,originY:y-2,style:stroke(1.8)});
 G.push({type:'line',z:20,silent:true,shape:{x1:x-3,y1:y+2.5,x2:x-1,y2:y+8},style:stroke(1.8)});}
function wz(x,y,s){G.push({type:'ellipse',z:20,silent:true,shape:{cx:x-4.5*s,cy:y,rx:3*s,ry:5*s},style:stroke(1.6*s+.3)});
 G.push({type:'circle',z:20,silent:true,shape:{cx:x+4*s,cy:y-2*s,r:3.5*s},style:stroke(1.6*s+.3)});
 G.push({type:'line',z:20,silent:true,shape:{x1:x+3*s,y1:y+1.5*s,x2:x+2*s,y2:y+7*s},style:stroke(1.6*s+.3)});}
function reset(x,y,s){const r=6.5*s;
 G.push({type:'arc',z:20,silent:true,shape:{cx:x,cy:y,r,startAngle:-2.7,endAngle:-.3},style:stroke(1.9*s+.2)});
 G.push({type:'arc',z:20,silent:true,shape:{cx:x,cy:y,r,startAngle:.45,endAngle:2.85},style:stroke(1.9*s+.2)});
 G.push({type:'polygon',z:20,silent:true,shape:{points:[[x+r+3*s,y-3*s],[x+r-3*s,y-3*s],[x+r,y+2*s]]},style:{fill:GRAY}});
 G.push({type:'polygon',z:20,silent:true,shape:{points:[[x-r+3*s,y+3*s],[x-r-3*s,y+3*s],[x-r,y-2*s]]},style:{fill:GRAY}});}
function bar(x,y1,y2){G.push({type:'line',z:20,silent:true,shape:{x1:x,y1,x2:x,y2},style:{stroke:BLUE,lineWidth:1.4}});}
[[404,390,41],[777,762,41],[1228,1213.5,43]].forEach(([x,bx,y0])=>{
 wheel(x,y0,9.5);move(x,y0+30,1);lasso(x,y0+57);wz(x,y0+89,1);reset(x,y0+119,1);
 bar(bx,y0+44,y0+74);bar(bx,y0+75,y0+104);
 [y0+73.5,y0+104].forEach(yy=>G.push({type:'line',z:20,silent:true,shape:{x1:x-4,y1:yy,x2:x+4,y2:yy},style:{stroke:'#ddd',lineWidth:1}}));
});
function box(x,y){G.push({type:'rect',z:20,silent:true,shape:{x:x-5,y:y-5,width:10,height:10},style:{stroke:GRAY,fill:'none',lineWidth:.9,lineDash:[2,1.5]}});}
function target(x,y){G.push({type:'circle',z:20,silent:true,shape:{cx:x,cy:y,r:4.5},style:stroke(1.1)});G.push({type:'circle',z:20,silent:true,shape:{cx:x,cy:y,r:1.2},style:{fill:GRAY}});}
[[408,399,402,1],[777,768,403,1],[1228,1219.5,400,2]].forEach(([x,bx,y0,k])=>{
 wheel(x,y0,5.5);move(x,y0+19,.62);box(x,y0+38);wz(x,y0+57,.62);reset(x,y0+76,.62);target(x,y0+95);
 if(k===1){bar(bx,y0+28,y0+66);bar(bx,y0+87,y0+105);}
 else{bar(bx,y0+10,y0+28);bar(bx,y0+48,y0+66);bar(bx,y0+87,y0+105);}
});
const chart=echarts.init(document.getElementById('c'),null,{renderer:'canvas'});
chart.setOption({animation:false,backgroundColor:'#fff',
 title:titles.map((t,i)=>({text:t,left:[231,603.5,1052][i],top:2,textAlign:'center',textStyle:{fontFamily:SERIF,fontWeight:'normal',fontSize:18.2,color:'#111'}})),
 grid,xAxis,yAxis,series,graphic:{elements:G}});
</script></body></html>
